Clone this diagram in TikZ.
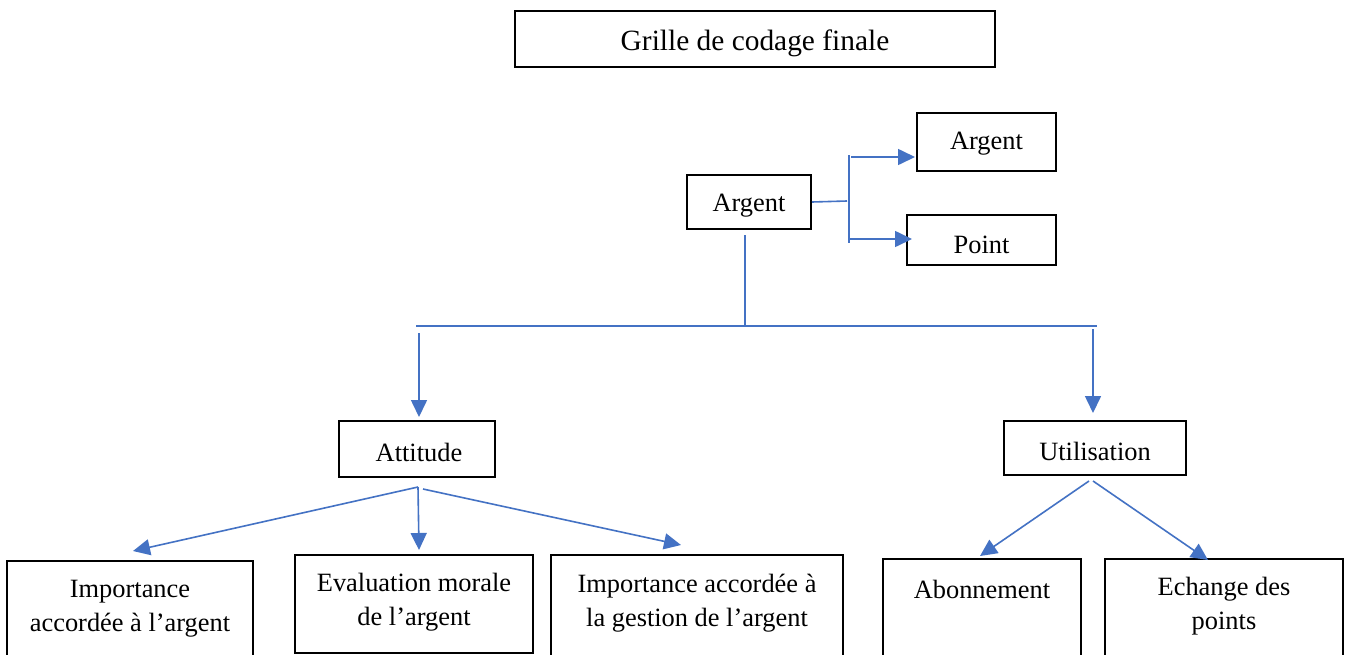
\documentclass[tikz,border=0pt]{standalone}
\usepackage{fontspec}
\setmainfont{Liberation Serif}
\usetikzlibrary{arrows.meta}
\definecolor{linkblue}{HTML}{4472C4}
\tikzset{
  box/.style={draw=black, line width=2pt, inner sep=0pt, fill=none},
  txt/.style={align=center, inner sep=0pt, font=\fontsize{26.4}{34}\selectfont},
  conn/.style={draw=linkblue, line width=1.6pt},
  arr/.style={conn, -{Triangle[length=17pt,width=16pt]}}
}
\begin{document}
\begin{tikzpicture}[x=1pt,y=-1pt]
\useasboundingbox (0,0) rectangle (1346,654);
\clip (0,0) rectangle (1346,654);
\fill[white] (0,0) rectangle (1346,654);
% boxes
\node[box, minimum width=480pt, minimum height=56pt] (title) at (755,39) {};
\node[txt, font=\fontsize{29.4}{36}\selectfont] (titlet) at (755,43) {Grille de codage finale};
\node[box, minimum width=124pt, minimum height=54pt] (arg) at (749,202) {};
\node[txt] (argt) at (749,206) {Argent};
\node[box, minimum width=139pt, minimum height=58pt] (argR) at (986.5,142) {};
\node[txt] (argRt) at (986.5,144) {Argent};
\node[box, minimum width=149pt, minimum height=50pt] (point) at (981.5,240) {};
\node[txt] (pointt) at (981.5,245) {Point};
\node[box, minimum width=156pt, minimum height=56pt] (att) at (417,449) {};
\node[txt] (attt) at (419,452) {Attitude};
\node[box, minimum width=182pt, minimum height=54pt] (util) at (1095,448) {};
\node[txt] (utilt) at (1095,451) {Utilisation};
\node[box, minimum width=246pt, minimum height=139pt] (b1) at (130,630.5) {};
\node[txt] (t1) at (130,609) {Importance\\accordée à l’argent};
\node[box, minimum width=238pt, minimum height=98pt] (b2) at (414,604) {};
\node[txt] (t2) at (414,602) {Evaluation morale\\de l’argent};
\node[box, minimum width=292pt, minimum height=145pt] (b3) at (697,627.5) {};
\node[txt] (t3) at (697,603) {Importance accordée à\\la gestion de l’argent};
\node[box, minimum width=198pt, minimum height=141pt] (b4) at (982,629.5) {};
\node[txt] (t4) at (982,589) {Abonnement};
\node[box, minimum width=238pt, minimum height=141pt] (b5) at (1224,629.5) {};
\node[txt] (t5) at (1224,606) {Echange des\\points};
% coordinates
\coordinate (c1) at (847,201);
\coordinate (vtop) at (849,155);
\coordinate (vbot) at (849,243);
\coordinate (s1) at (851,157);
\coordinate (s2) at (849,239);
\coordinate (e1) at (915,157);
\coordinate (e2) at (912,239);
\coordinate (d1) at (745,235);
\coordinate (d2) at (745,325);
\coordinate (hl) at (416,326);
\coordinate (hr) at (1097,326);
\coordinate (la) at (419,333);
\coordinate (lb) at (419,417);
\coordinate (ra) at (1093,329);
\coordinate (rb) at (1093,413);
\coordinate (ao) at (418,487);
\coordinate (ao2) at (423,489);
\coordinate (at1) at (133,551);
\coordinate (at2) at (419,550);
\coordinate (at3) at (681,545);
\coordinate (uo1) at (1089,481);
\coordinate (uo2) at (1093,481);
\coordinate (ut1) at (980,556);
\coordinate (ut2) at (1208,560);
% connectors
\draw[conn] (arg.east) -- (c1);
\draw[conn] (vtop) -- (vbot);
\draw[arr] (s1) -- (e1);
\draw[arr] (s2) -- (e2);
\draw[conn] (d1) -- (d2);
\draw[conn] (hl) -- (hr);
\draw[arr] (la) -- (lb);
\draw[arr] (ra) -- (rb);
\draw[arr] (ao) -- (at1);
\draw[arr] (ao) -- (at2);
\draw[arr] (ao2) -- (at3);
\draw[arr] (uo1) -- (ut1);
\draw[arr] (uo2) -- (ut2);
\end{tikzpicture}
\end{document}
